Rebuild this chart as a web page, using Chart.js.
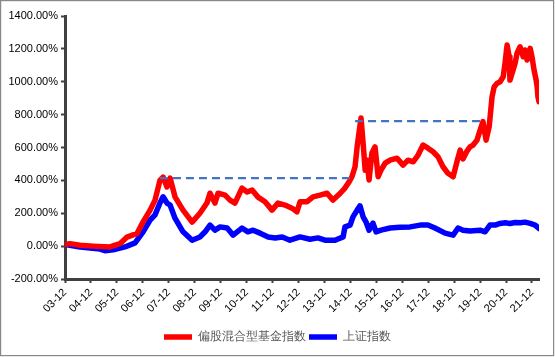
<!DOCTYPE html>
<html><head><meta charset="utf-8">
<script src="https://cdn.jsdelivr.net/npm/chart.js@4"></script>
<style>html,body{margin:0;padding:0;background:#fff}#wrap{width:555px;height:357px;position:relative}</style>
</head><body><div id="wrap"><canvas id="c" width="555" height="357"></canvas></div>
<script>
// x positions: years since 2003-12
const tickLabels = ['03-12','04-12','05-12','06-12','07-12','08-12','09-12','10-12','11-12','12-12','13-12','14-12','15-12','16-12','17-12','18-12','19-12','20-12','21-12'];
const seriesNames = ['偏股混合型基金指数','上证指数'];
const fundT = [0,0.19,0.58,1.08,1.73,2.12,2.39,2.78,3.01,3.28,3.47,3.66,3.78,3.93,4.05,4.24,4.55,4.90,5.20,5.47,5.59,5.78,5.90,6.17,6.36,6.55,6.82,7.02,7.21,7.44,7.71,7.98,8.21,8.48,8.75,8.94,9.06,9.33,9.56,9.83,10.10,10.33,10.60,10.79,10.95,11.06,11.18,11.26,11.33,11.41,11.49,11.57,11.64,11.72,11.83,11.95,12.07,12.18,12.34,12.53,12.80,13.03,13.22,13.42,13.61,13.80,13.99,14.19,14.38,14.57,14.76,14.96,15.11,15.23,15.34,15.50,15.61,15.73,15.88,16.00,16.11,16.23,16.35,16.46,16.54,16.65,16.77,16.89,16.96,17.04,17.12,17.15,17.27,17.35,17.42,17.54,17.66,17.73,17.81,17.93,18.00,18.08,18.16,18.20,18.23,18.27];
const fundV = [10,15,5,0,-5,15,55,78,148,219,280,400,420,360,414,300,219,146,200,262,322,262,322,310,280,262,353,329,341,298,270,219,262,250,231,209,270,270,300,310,322,280,320,353,391,422,483,604,688,779,627,462,523,402,566,604,422,462,505,523,535,493,523,513,554,615,596,574,543,483,443,422,515,584,530,580,604,615,645,706,757,645,727,908,968,990,1000,1030,1112,1223,1152,1010,1071,1113,1172,1213,1152,1193,1132,1203,1152,1071,1010,968,908,878];
const shT = [0,0.58,1.35,1.54,1.93,2.31,2.70,3.01,3.28,3.47,3.66,3.78,3.93,4.05,4.24,4.55,4.90,5.20,5.40,5.59,5.78,5.98,6.25,6.48,6.82,7.05,7.25,7.52,7.83,8.10,8.37,8.67,9.06,9.44,9.75,10.02,10.41,10.72,10.79,10.99,11.10,11.26,11.37,11.49,11.60,11.72,11.87,11.99,12.18,12.53,12.91,13.30,13.69,13.99,14.26,14.65,14.96,15.15,15.34,15.61,16.00,16.19,16.38,16.58,16.77,16.96,17.15,17.35,17.54,17.73,17.93,18.12,18.27];
const shV = [10,-5,-18,-28,-20,-5,20,87,158,190,262,300,262,250,170,87,36,56,87,128,97,117,110,67,110,87,97,79,56,50,56,36,56,42,50,36,36,56,117,128,178,219,245,178,148,97,140,87,97,110,115,117,128,128,110,79,67,110,97,92,97,87,128,128,138,142,138,144,142,146,138,128,107];
// previous-peak reference lines: [start, end, level]
const peak1 = [3.66, 11.18, 414];
const peak2 = [11.18, 16.11, 761];

const pts = (T, V) => T.map((t, i) => ({x: t, y: V[i]}));
const dash = p => [{x: p[0], y: p[2]}, {x: p[1], y: p[2]}];

const borderPlugin = {
  id: 'frame',
  afterLayout(chart) {
    // centre the legend on the whole canvas rather than on the padded box
    const lg = chart.legend;
    if (lg) { lg.left += 8; lg.right += 8; }
  },
  afterDraw(chart) {
    const ctx = chart.ctx;
    ctx.save();
    ctx.strokeStyle = '#888';
    ctx.lineWidth = 1.2;
    ctx.strokeRect(0.6, 0.6, 553, 355);
    ctx.restore();
  }
};

const lineStyle = {borderWidth: 5.5, pointRadius: 0, borderJoinStyle: 'round', borderCapStyle: 'round'};

new Chart(document.getElementById('c'), {
  type: 'line',
  data: {
    datasets: [
      Object.assign({label: seriesNames[0], data: pts(fundT, fundV), borderColor: '#FF0000', backgroundColor: '#FF0000', order: 1}, lineStyle),
      Object.assign({label: seriesNames[1], data: pts(shT, shV), borderColor: '#0000FF', backgroundColor: '#0000FF', order: 2}, lineStyle),
      {label: 'p1', data: dash(peak1), borderColor: '#4472C4', borderWidth: 2.2, borderDash: [8, 5], pointRadius: 0, order: 0},
      {label: 'p2', data: dash(peak2), borderColor: '#4472C4', borderWidth: 2.2, borderDash: [8, 5], pointRadius: 0, order: 0}
    ]
  },
  options: {
    responsive: false,
    animation: false,
    events: [],
    layout: {padding: {top: 16, right: 16, bottom: 4, left: 0}},
    plugins: {
      tooltip: {enabled: false},
      legend: {
        position: 'bottom',
        labels: {
          filter: item => item.text !== 'p1' && item.text !== 'p2',
          usePointStyle: true,
          pointStyle: 'line',
          pointStyleWidth: 28,
          font: {family: 'Liberation Sans, Arial', size: 12},
          color: '#595959',
          padding: 3,
          boxHeight: 12
        }
      }
    },
    scales: {
      x: {
        type: 'linear',
        min: 0,
        max: 18.27,
        afterBuildTicks: s => { s.ticks = tickLabels.map((l, i) => ({value: i})); },
        afterFit: s => { s.height = 49; },
        ticks: {
          callback: (v) => tickLabels[Math.round(v)] || '',
          minRotation: 45, maxRotation: 45,
          autoSkip: false,
          font: {family: 'Liberation Sans, Arial', size: 11},
          color: '#000',
          padding: 3
        },
        grid: {drawOnChartArea: false, drawTicks: true, tickLength: 4, tickColor: '#404040', tickWidth: 2},
        border: {display: true, color: '#404040', width: 3}
      },
      y: {
        min: -200,
        max: 1400,
        afterFit: s => { s.width = 65; },
        ticks: {
          stepSize: 200,
          callback: v => v.toFixed(2) + '%',
          font: {family: 'Liberation Sans, Arial', size: 11},
          color: '#000',
          padding: 3
        },
        grid: {drawOnChartArea: false, drawTicks: true, tickLength: 4, tickColor: '#404040', tickWidth: 2},
        border: {display: true, color: '#404040', width: 3}
      }
    }
  },
  plugins: [borderPlugin]
});
</script></body></html>
